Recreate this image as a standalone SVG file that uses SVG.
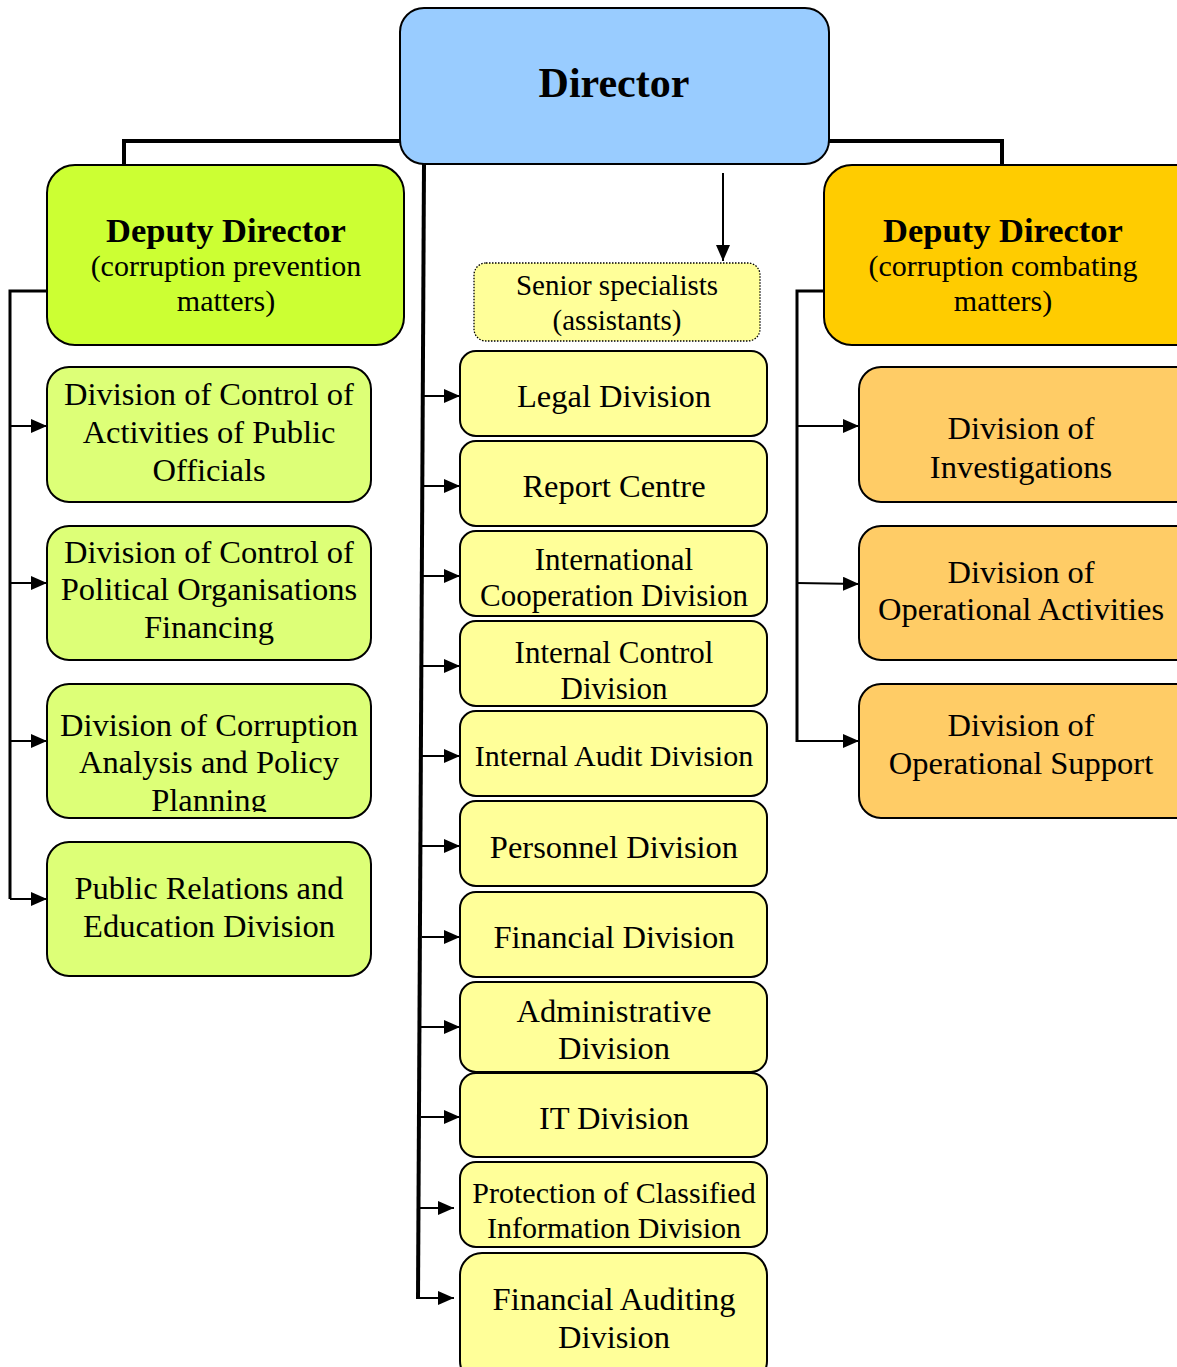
<svg xmlns="http://www.w3.org/2000/svg" width="1177" height="1367" viewBox="0 0 1177 1367">
<style>
.box{stroke:#000;stroke-width:2}
.dir{fill:#99CCFF}
.depL{fill:#CCFF33}
.depR{fill:#FFCC00}
.gL{fill:#DDFF77}
.oR{fill:#FFCC66}
.yM{fill:#FFFF99}
.sen{fill:#FFFF99;stroke:#000;stroke-width:1.3;stroke-dasharray:1.5 1.5}
text{font-family:"Liberation Serif","Times New Roman",serif;fill:#000;text-anchor:middle}
.t{font-size:32.5px}
.ts{font-size:30px}
.b{font-weight:bold}
.con{fill:none;stroke:#000;stroke-width:2}
.thick{fill:none;stroke:#000;stroke-width:4}
.trunk{fill:none;stroke:#000;stroke-width:3}
</style>
<defs>
<marker id="ah" viewBox="0 0 16 14" refX="16" refY="7" markerWidth="16" markerHeight="14" markerUnits="userSpaceOnUse" orient="auto">
<path d="M0,0 L16,7 L0,14 Z" fill="#000"/>
</marker>
<clipPath id="clipPlan"><rect x="40" y="684" width="340" height="128"/></clipPath>
</defs>

<g id="connectors">
<polyline class="thick" points="402,141 124,141 124,166"/>
<polyline class="thick" points="827,141 1002,141 1002,166"/>
<polyline class="trunk" points="47,291 10,291 10,899"/>
<line class="con" x1="10" y1="426" x2="47" y2="426" marker-end="url(#ah)"/>
<line class="con" x1="10" y1="583" x2="47" y2="583" marker-end="url(#ah)"/>
<line class="con" x1="10" y1="741" x2="47" y2="741" marker-end="url(#ah)"/>
<line class="con" x1="10" y1="899" x2="47" y2="899" marker-end="url(#ah)"/>
<polyline class="trunk" points="824,291 797,291 797,742"/>
<line class="con" x1="797" y1="426" x2="859" y2="426" marker-end="url(#ah)"/>
<line class="con" x1="797" y1="583" x2="859" y2="584" marker-end="url(#ah)"/>
<line class="con" x1="797" y1="741" x2="859" y2="741" marker-end="url(#ah)"/>
<line class="thick" x1="424" y1="164" x2="418" y2="1299"/>
<line class="con" x1="423" y1="396" x2="460" y2="396" marker-end="url(#ah)"/>
<line class="con" x1="423" y1="486" x2="460" y2="486" marker-end="url(#ah)"/>
<line class="con" x1="423" y1="576" x2="460" y2="576" marker-end="url(#ah)"/>
<line class="con" x1="423" y1="666" x2="460" y2="666" marker-end="url(#ah)"/>
<line class="con" x1="422" y1="756" x2="460" y2="756" marker-end="url(#ah)"/>
<line class="con" x1="422" y1="846" x2="460" y2="846" marker-end="url(#ah)"/>
<line class="con" x1="422" y1="937" x2="460" y2="937" marker-end="url(#ah)"/>
<line class="con" x1="421" y1="1027" x2="460" y2="1027" marker-end="url(#ah)"/>
<line class="con" x1="421" y1="1117" x2="460" y2="1117" marker-end="url(#ah)"/>
<line class="con" x1="420" y1="1208" x2="454" y2="1208" marker-end="url(#ah)"/>
<line class="con" x1="418" y1="1298" x2="454" y2="1298" marker-end="url(#ah)"/>
<line class="con" x1="723" y1="173" x2="723" y2="261" marker-end="url(#ah)"/>
</g>

<g id="director">
<rect class="box dir" x="400" y="8" width="429" height="156" rx="24"/>
<text x="614" y="97" class="b" font-size="42">Director</text>
</g>

<g id="deputy-prevention">
<rect class="box depL" x="47" y="165" width="357" height="180" rx="28"/>
<text x="226" y="242" class="b" font-size="34.5">Deputy Director</text>
<text x="226" y="276" class="ts">(corruption prevention</text>
<text x="226" y="311" class="ts">matters)</text>
</g>

<g id="deputy-combating">
<rect class="box depR" x="824" y="165" width="380" height="180" rx="28"/>
<text x="1003" y="242" class="b" font-size="34.5">Deputy Director</text>
<text x="1003" y="276" class="ts">(corruption combating</text>
<text x="1003" y="311" class="ts">matters)</text>
</g>

<g id="div-public-officials">
<rect class="box gL" x="47" y="367" width="324" height="135" rx="22"/>
<text x="209" y="405" class="t">Division of Control of</text>
<text x="209" y="443" class="t">Activities of Public</text>
<text x="209" y="481" class="t">Officials</text>
</g>

<g id="div-political-financing">
<rect class="box gL" x="47" y="526" width="324" height="134" rx="22"/>
<text x="209" y="563" class="t">Division of Control of</text>
<text x="209" y="600" class="t">Political Organisations</text>
<text x="209" y="638" class="t">Financing</text>
</g>

<g id="div-corruption-analysis">
<rect class="box gL" x="47" y="684" width="324" height="134" rx="22"/>
<text x="209" y="736" class="t">Division of Corruption</text>
<text x="209" y="773" class="t">Analysis and Policy</text>
<text x="209" y="811" class="t" clip-path="url(#clipPlan)">Planning</text>
</g>

<g id="div-public-relations">
<rect class="box gL" x="47" y="842" width="324" height="134" rx="22"/>
<text x="209" y="899" class="t">Public Relations and</text>
<text x="209" y="937" class="t">Education Division</text>
</g>

<g id="div-investigations">
<rect class="box oR" x="859" y="367" width="345" height="135" rx="22"/>
<text x="1021" y="439" class="t">Division of</text>
<text x="1021" y="478" class="t">Investigations</text>
</g>

<g id="div-operational-activities">
<rect class="box oR" x="859" y="526" width="345" height="134" rx="22"/>
<text x="1021" y="583" class="t">Division of</text>
<text x="1021" y="620" class="t">Operational Activities</text>
</g>

<g id="div-operational-support">
<rect class="box oR" x="859" y="684" width="345" height="134" rx="22"/>
<text x="1021" y="736" class="t">Division of</text>
<text x="1021" y="774" class="t">Operational Support</text>
</g>

<g id="senior-specialists">
<rect class="sen" x="474" y="263" width="286" height="78" rx="12"/>
<text x="617" y="295" font-size="29">Senior specialists</text>
<text x="617" y="330" font-size="29">(assistants)</text>
</g>

<g id="legal">
<rect class="box yM" x="460" y="351" width="307" height="85" rx="16"/>
<text x="614" y="407" class="t">Legal Division</text>
</g>
<g id="report-centre">
<rect class="box yM" x="460" y="441" width="307" height="85" rx="16"/>
<text x="614" y="497" class="t">Report Centre</text>
</g>
<g id="international">
<rect class="box yM" x="460" y="531" width="307" height="85" rx="16"/>
<text x="614" y="570" font-size="31">International</text>
<text x="614" y="606" font-size="31">Cooperation Division</text>
</g>
<g id="internal-control">
<rect class="box yM" x="460" y="621" width="307" height="85" rx="16"/>
<text x="614" y="663" font-size="31">Internal Control</text>
<text x="614" y="699" font-size="31">Division</text>
</g>
<g id="internal-audit">
<rect class="box yM" x="460" y="711" width="307" height="85" rx="16"/>
<text x="614" y="766" class="ts">Internal Audit Division</text>
</g>
<g id="personnel">
<rect class="box yM" x="460" y="801" width="307" height="85" rx="16"/>
<text x="614" y="858" class="t">Personnel Division</text>
</g>
<g id="financial">
<rect class="box yM" x="460" y="892" width="307" height="85" rx="16"/>
<text x="614" y="948" class="t">Financial Division</text>
</g>
<g id="administrative">
<rect class="box yM" x="460" y="982" width="307" height="90" rx="16"/>
<text x="614" y="1022" class="t">Administrative</text>
<text x="614" y="1059" class="t">Division</text>
</g>
<g id="it">
<rect class="box yM" x="460" y="1073" width="307" height="84" rx="16"/>
<text x="614" y="1129" class="t">IT Division</text>
</g>
<g id="classified-info">
<rect class="box yM" x="460" y="1162" width="307" height="85" rx="16"/>
<text x="614" y="1203" class="ts">Protection of Classified</text>
<text x="614" y="1238" class="ts">Information Division</text>
</g>
<g id="financial-auditing">
<rect class="box yM" x="460" y="1253" width="307" height="130" rx="22"/>
<text x="614" y="1310" class="t">Financial Auditing</text>
<text x="614" y="1348" class="t">Division</text>
</g>
</svg>
